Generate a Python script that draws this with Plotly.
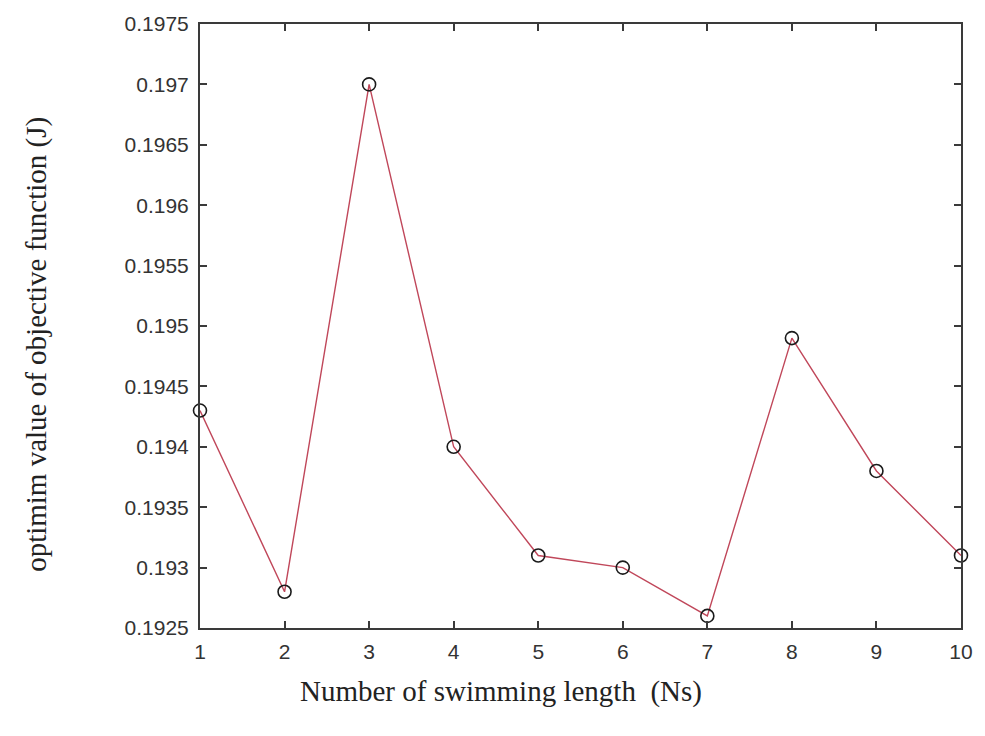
import plotly.graph_objects as go

# Optimum objective value for each swimming length
swim_length = [1, 2, 3, 4, 5, 6, 7, 8, 9, 10]
objective_j = [0.1943, 0.1928, 0.1970, 0.1940, 0.1931, 0.1930, 0.1926, 0.1949, 0.1938, 0.1931]

y_ticks = [0.1925, 0.1930, 0.1935, 0.1940, 0.1945, 0.1950, 0.1955, 0.1960, 0.1965, 0.1970, 0.1975]
y_tick_text = ["0.1925", "0.193", "0.1935", "0.194", "0.1945", "0.195",
               "0.1955", "0.196", "0.1965", "0.197", "0.1975"]
x_ticks = [1, 2, 3, 4, 5, 6, 7, 8, 9, 10]

axis_color = "#3a3a3a"
tick_font = dict(family="Liberation Sans, Arial, sans-serif", size=21, color="#333333")
title_font = dict(family="Liberation Serif, Times New Roman, serif", size=29, color="#222222")

fig = go.Figure()
fig.add_trace(go.Scatter(
    x=swim_length, y=objective_j, mode="lines",
    line=dict(color="#c0475a", width=1.4),
    hoverinfo="skip", showlegend=False,
))
fig.add_trace(go.Scatter(
    x=swim_length, y=objective_j, mode="markers",
    marker=dict(symbol="circle-open", size=13, color="#1a1a1a", line=dict(width=1.6)),
    showlegend=False, cliponaxis=False,
))

fig.update_layout(
    width=985, height=736,
    margin=dict(l=200, r=15, t=22, b=108),
    paper_bgcolor="white", plot_bgcolor="white",
    xaxis=dict(
        range=[1, 10], tickvals=x_ticks, ticks="inside", ticklen=7, tickwidth=1.5,
        tickcolor=axis_color, showline=True, linecolor=axis_color, linewidth=2,
        mirror="ticks", showgrid=False, zeroline=False, tickfont=tick_font,
        ticklabelstandoff=4,
    ),
    yaxis=dict(
        range=[0.1925, 0.1975], tickvals=y_ticks, ticktext=y_tick_text,
        ticks="inside", ticklen=7, tickwidth=1.5, tickcolor=axis_color,
        showline=True, linecolor=axis_color, linewidth=2, mirror="ticks",
        showgrid=False, zeroline=False, tickfont=tick_font, ticklabelstandoff=5,
    ),
    annotations=[
        dict(text="Number of swimming length  (Ns)", xref="paper", yref="paper",
             x=(505 - 200) / 770, y=-(692 - 628) / 606, xanchor="center", yanchor="middle",
             showarrow=False, font=title_font),
        dict(text="optimim value of objective function (J)", xref="paper", yref="paper",
             x=-(200 - 35) / 770, y=(628 - 343) / 606, xanchor="center", yanchor="middle",
             textangle=-90, showarrow=False, font=title_font),
    ],
)

fig.write_html("out.html")
